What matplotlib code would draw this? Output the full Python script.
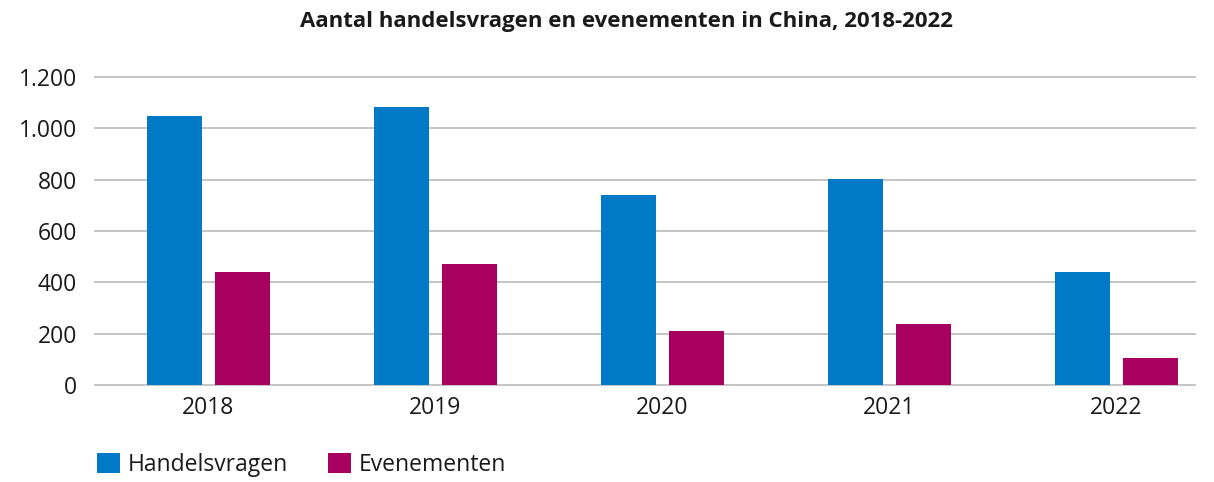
import matplotlib.pyplot as plt
import matplotlib.ticker as mticker
import numpy as np

plt.rcParams['font.family'] = ['Open Sans', 'DejaVu Sans']

jaren = ['2018', '2019', '2020', '2021', '2022']
handelsvragen = [1047, 1083, 740, 802, 440]
evenementen = [440, 471, 210, 237, 105]

blauw = '#0079C7'
paars = '#A8005F'

fig = plt.figure(figsize=(12.14, 4.82), dpi=100)
ax = fig.add_axes([95 / 1214, 97 / 482, 1100 / 1214, 308 / 482])

x = np.arange(len(jaren))
w = 0.242
ax.bar(x - 0.15, handelsvragen, w, color=blauw, label='Handelsvragen', zorder=3)
ax.bar(x + 0.15, evenementen, w, color=paars, label='Evenementen', zorder=3)

ax.set_xlim(-0.5, 4.346)
ax.set_ylim(0, 1200)
ax.set_yticks(range(0, 1201, 200))
ax.yaxis.set_major_formatter(mticker.FuncFormatter(lambda v, p: f'{int(v):,}'.replace(',', '.')))
ax.set_xticks(x)
ax.set_xticklabels(jaren)
ax.tick_params(axis='both', length=0, labelsize=16.5, colors='#1a1a1a')
ax.tick_params(axis='y', pad=13)
ax.tick_params(axis='x', pad=8)
ax.grid(axis='y', color='#c4c4c4', linewidth=1.4, zorder=0)
for s in ax.spines.values():
    s.set_visible(False)
for gl in ax.get_ygridlines():
    gl.set_clip_on(False)

fig.text(0.5 + 19 / 1214, 1 - 22 / 482, 'Aantal handelsvragen en evenementen in China, 2018-2022',
         ha='center', va='center', fontsize=16, fontweight='bold', color='#1a1a1a')

leg = fig.legend(loc='center left', bbox_to_anchor=(76 / 1214, 1 - 465 / 482), ncol=2,
                 frameon=False, fontsize=16.5, handlelength=1.0, handleheight=1.0,
                 handletextpad=0.35, columnspacing=1.75)
for t in leg.get_texts():
    t.set_color('#1a1a1a')

fig.savefig('out.png', dpi=100)
